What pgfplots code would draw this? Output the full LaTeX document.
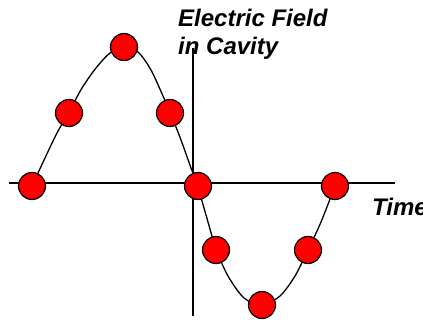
\documentclass[border=0pt]{standalone}
\usepackage{pgfplots}
\pgfplotsset{compat=1.18}
\usepackage{fontspec}
\setmainfont{Liberation Sans}

\begin{document}
\begin{tikzpicture}
\begin{axis}[
    width=423bp, height=321bp,
    scale only axis,
    xmin=0, xmax=423, ymin=0, ymax=321,
    hide axis,
    clip=false,
]
% labels
\node[anchor=base west, inner sep=0pt, font=\fontsize{24bp}{28bp}\selectfont\bfseries\itshape]
    at (axis cs:178,294) {Electric Field};
\node[anchor=base west, inner sep=0pt, font=\fontsize{24bp}{28bp}\selectfont\bfseries\itshape]
    at (axis cs:178,266) {in Cavity};
\node[anchor=base west, inner sep=0pt, font=\fontsize{24bp}{28bp}\selectfont\bfseries\itshape]
    at (axis cs:372,105) {Time};

% axes
\addplot[black, line width=2bp] coordinates {(9,138) (395,138)};
\addplot[black, line width=2.4bp] coordinates {(193,273) (193,5)};

% field curve
\addplot[black, line width=1.3bp, smooth, tension=0.5] coordinates {
    (32,135) (45,163) (57,188) (69,209) (82,233) (96,253) (110,268)
    (124,274) (138,269) (151,251) (163,225) (170,209) (181,181)
    (191,153) (197,137) (206,106) (216,72) (228,45) (244,23)
    (262,16) (280,25) (295,45) (308,71) (321,99) (335,135)
};

% sample points
\addplot[only marks, mark=*, mark size=13.5bp,
    mark options={fill=red, draw=black, line width=1.2bp}] coordinates {
    (32,135) (69,208) (124,274) (170,208) (198,135)
    (216,71) (262,16) (308,71) (335,135)
};
\end{axis}
\pgfresetboundingbox
\path (0,0) rectangle (423bp,321bp);
\end{tikzpicture}
\end{document}
